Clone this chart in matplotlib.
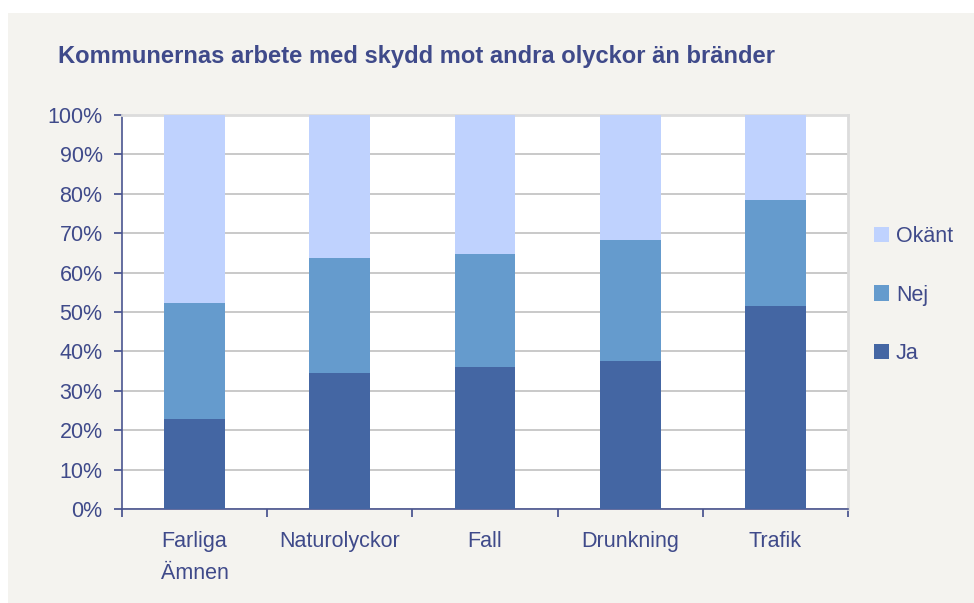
import matplotlib
matplotlib.use("Agg")
import matplotlib.pyplot as plt
import numpy as np

categories = ["Farliga\nÄmnen", "Naturolyckor", "Fall", "Drunkning", "Trafik"]
ja = [22.8, 34.6, 36.1, 37.6, 51.4]
nej = [29.6, 29.2, 28.7, 30.7, 26.9]
okant = [47.6, 36.2, 35.2, 31.7, 21.7]
series_names = ["Ja", "Nej", "Okänt"]
yticks = [0, 10, 20, 30, 40, 50, 60, 70, 80, 90, 100]

c_ja = "#4466A3"
c_nej = "#659BCD"
c_ok = "#BFD2FE"
txt = "#3F4A8A"
bg = "#F4F3EF"

plt.rcParams['font.family'] = ['Liberation Sans', 'DejaVu Sans']

fig = plt.figure(figsize=(9.74, 6.03), dpi=100)
fig.patch.set_facecolor("white")
fig.patches.append(plt.Rectangle((8/974, 0), 1, 1 - 13/603, transform=fig.transFigure,
                                 facecolor=bg, edgecolor="none", zorder=-10))

ax = fig.add_axes([122/974, 1 - 509/603, (848-122)/974, (509-115)/603])
ax.set_facecolor("white")
x = np.arange(len(categories))
w = 0.42
ax.bar(x, ja, w, color=c_ja, label=series_names[0], zorder=3)
ax.bar(x, nej, w, bottom=ja, color=c_nej, label=series_names[1], zorder=3)
bot2 = [a + b for a, b in zip(ja, nej)]
ax.bar(x, okant, w, bottom=bot2, color=c_ok, label=series_names[2], zorder=3)

ax.set_xlim(-0.5, len(categories) - 0.5)
ax.set_ylim(0, 100)
ax.set_yticks(yticks)
ax.set_yticklabels([f"{v}%" for v in yticks])
ax.yaxis.grid(True, color="#C0C0C0", linewidth=1.2, zorder=0)
ax.set_axisbelow(True)

ax.set_xticks(x)
ax.set_xticklabels(categories, linespacing=1.65)
ax.set_xticks(np.arange(-0.5, len(categories)), minor=True)
ax.tick_params(axis="x", which="major", length=0, pad=16, labelsize=15.5, labelcolor=txt)
ax.tick_params(axis="x", which="minor", length=6, color=txt, width=1.2, direction="out")
ax.tick_params(axis="y", length=6, color=txt, width=1.2, pad=8, labelsize=15.5, labelcolor=txt)

for s in ["left", "bottom"]:
    ax.spines[s].set_color("#4A5590")
    ax.spines[s].set_linewidth(1.2)
for s in ["top", "right"]:
    ax.spines[s].set_color("#DCDCDC")
    ax.spines[s].set_linewidth(2)

fig.text(58/974, 1 - 57/603, "Kommunernas arbete med skydd mot andra olyckor än bränder",
         fontsize=17.1, fontweight="bold", color=txt, va="center", ha="left")

h, l = ax.get_legend_handles_labels()
leg = fig.legend(h[::-1], l[::-1], loc="center left", bbox_to_anchor=(855/974, 1 - 295/603),
                 frameon=False, fontsize=15.5, labelspacing=1.75, handlelength=0.7,
                 handleheight=0.7, handletextpad=0.3, labelcolor=txt)

fig.savefig("out.png", dpi=100, facecolor="white")
